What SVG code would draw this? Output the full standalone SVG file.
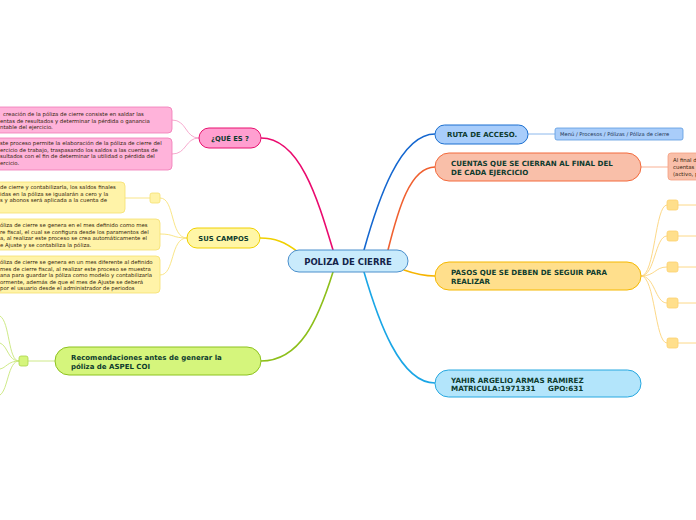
<svg xmlns="http://www.w3.org/2000/svg" width="696" height="520" viewBox="0 0 696 520">
<style>
.t{font-family:"DejaVu Sans",Verdana,sans-serif;font-weight:bold;fill:#0d3b2e}
.n{font-family:"DejaVu Sans",Verdana,sans-serif;font-size:5.4px;fill:#33240c}
.c{fill:none;stroke-width:1.6;stroke-linecap:round}
.s{fill:none;stroke-width:0.9}
</style>
<rect width="696" height="520" fill="#ffffff"/>
<g id="connectors">
<path class="c" stroke="#ea0a6e" d="M333,250 C318,200 300,138 261,138"/>
<path class="c" stroke="#f0d000" d="M298,252 C285,242 275,238 260,238"/>
<path class="c" stroke="#8dbf1a" d="M333,272 C318,320 300,361 261,361"/>
<path class="c" stroke="#1467d0" d="M364,250 C378,200 400,134 435,134"/>
<path class="c" stroke="#f06030" d="M388,250 C398,210 410,167 435,167"/>
<path class="c" stroke="#f6b400" d="M404,270 C418,275 425,276 435,276"/>
<path class="c" stroke="#1aa6e6" d="M364,272 C378,320 400,383 435,383"/>
<path class="s" stroke="#f5a0c8" d="M199,138 C185,138 187,120 172,120"/>
<path class="s" stroke="#f5a0c8" d="M199,138 C185,138 187,154 172,154"/>
<path class="s" stroke="#f8e27a" d="M187,238 C170,238 175,198 160,198"/>
<path class="s" stroke="#f8e27a" d="M125,198 L150,198"/>
<path class="s" stroke="#f8e27a" d="M187,238 C172,238 175,234 160,234"/>
<path class="s" stroke="#f8e27a" d="M187,238 C170,238 175,275 160,275"/>
<path class="s" stroke="#c8e67a" d="M28,361 L55,361"/>
<path class="s" stroke="#c8e67a" d="M19,361 C8,361 10,322 0,316"/>
<path class="s" stroke="#c8e67a" d="M19,361 C8,361 8,346 0,343"/>
<path class="s" stroke="#c8e67a" d="M19,361 C8,361 6,368 0,369"/>
<path class="s" stroke="#c8e67a" d="M19,361 C8,361 8,390 0,395"/>
<path class="s" stroke="#7fb0ea" d="M528,134 L555,134"/>
<path class="s" stroke="#f8a888" d="M641,167 L668,167"/>
<path class="s" stroke="#fcd47a" d="M641,276 C655,276 655,205 667,205"/>
<path class="s" stroke="#fcd47a" d="M641,276 C655,276 655,236 667,236"/>
<path class="s" stroke="#fcd47a" d="M641,276 C655,276 655,267 667,267"/>
<path class="s" stroke="#fcd47a" d="M641,276 C655,276 655,303 667,303"/>
<path class="s" stroke="#fcd47a" d="M641,276 C655,276 655,343 667,343"/>
<path class="s" stroke="#fcd47a" d="M678,205 L696,205 M678,236 L696,236 M678,267 L696,267 M678,303 L696,303 M678,343 L696,343"/>
</g>
<g id="central">
<rect x="288" y="250" width="120" height="22" rx="11" fill="#c9ebfc" stroke="#4a8fcc" stroke-width="1"/>
<text class="t" x="348" y="264.5" font-size="8.5" text-anchor="middle" style="fill:#14244a">POLIZA DE CIERRE</text>
</g>
<g id="que-es">
<rect x="199" y="128" width="62" height="20" rx="10" fill="#ff9fd0" stroke="#e8106e" stroke-width="1"/>
<text class="t" x="230" y="141" font-size="6.8" text-anchor="middle">¿QUÉ ES ?</text>
</g>
<g id="que-es-1">
<rect x="-6" y="107" width="178" height="26" rx="4" fill="#ffb3da" stroke="#f07ab6" stroke-width="0.8"/>
<text class="n" x="3" y="116">creación de la póliza de cierre consiste en saldar las</text>
<text class="n" x="0" y="122.5">entas de resultados y determinar la pérdida o ganancia</text>
<text class="n" x="0" y="129">ntable del ejercicio.</text>
</g>
<g id="que-es-2">
<rect x="-6" y="138" width="178" height="32" rx="4" fill="#ffb3da" stroke="#f07ab6" stroke-width="0.8"/>
<text class="n" x="0" y="145">ste proceso permite la elaboración de la póliza de cierre del</text>
<text class="n" x="0" y="151.5">ercicio de trabajo, traspasando los saldos a las cuentas de</text>
<text class="n" x="0" y="158">sultados con  el fin de determinar la utilidad o pérdida del</text>
<text class="n" x="0" y="164.5">ercicio.</text>
</g>
<g id="sus-campos">
<rect x="187" y="228" width="73" height="20" rx="10" fill="#fff6a6" stroke="#f0d000" stroke-width="1"/>
<text class="t" x="223.5" y="241" font-size="6.8" text-anchor="middle">SUS CAMPOS</text>
</g>
<g id="campos-1">
<rect x="-6" y="182" width="131" height="31" rx="4" fill="#fff3a8" stroke="#f5df70" stroke-width="0.8"/>
<text class="n" x="0" y="189">de cierre y contabilizarla, los saldos finales</text>
<text class="n" x="0" y="195.5">idas en la póliza se igualarán a cero y la</text>
<text class="n" x="0" y="202">s y abonos será aplicada a la cuenta de</text>
<rect x="150" y="193" width="10" height="10" rx="2" fill="#fff3a8" stroke="#f5df70" stroke-width="0.8"/>
</g>
<g id="campos-2">
<rect x="-6" y="219" width="166" height="31" rx="4" fill="#fff3a8" stroke="#f5df70" stroke-width="0.8"/>
<text class="n" x="0" y="227">óliza de cierre se genera en el mes definido como mes</text>
<text class="n" x="0" y="233.5">re fiscal, el cual se configura desde los paramentos del</text>
<text class="n" x="0" y="240">a, al realizar este proceso se crea automáticamente el</text>
<text class="n" x="0" y="246.5">e Ajuste y se contabiliza la póliza.</text>
</g>
<g id="campos-3">
<rect x="-6" y="256" width="166" height="37" rx="4" fill="#fff3a8" stroke="#f5df70" stroke-width="0.8"/>
<text class="n" x="0" y="264">óliza de cierre se genera en un mes diferente al definido</text>
<text class="n" x="0" y="270.5">mes de cierre fiscal, al realizar este proceso se muestra</text>
<text class="n" x="0" y="277">ana para guardar la póliza como modelo y contabilizarla</text>
<text class="n" x="0" y="283.5">ormente, además de que el mes de Ajuste se deberá</text>
<text class="n" x="0" y="290">por el usuario  desde el administrador de periodos</text>
</g>
<g id="recomendaciones">
<rect x="55" y="347" width="206" height="28" rx="14" fill="#d5f57c" stroke="#8dc21f" stroke-width="1"/>
<text class="t" x="71" y="359.5" font-size="7">Recomendaciones antes de generar la</text>
<text class="t" x="71" y="368.5" font-size="7">póliza de ASPEL COI</text>
<rect x="19" y="356" width="9" height="10" rx="2" fill="#d5f57c" stroke="#a9d44a" stroke-width="0.8"/>
</g>
<g id="ruta">
<rect x="435" y="125" width="93" height="19" rx="9.5" fill="#a8cdfb" stroke="#1a6fd0" stroke-width="1"/>
<text class="t" x="447" y="137" font-size="7">RUTA DE ACCESO.</text>
</g>
<g id="ruta-nota">
<rect x="555" y="128" width="128" height="12" rx="2" fill="#a9cdfa" stroke="#5b9be0" stroke-width="0.8"/>
<text class="n" x="560" y="136" style="fill:#1a3050;font-size:5.2px">Menú / Procesos / Pólizas / Póliza de cierre</text>
</g>
<g id="cuentas">
<rect x="435" y="153" width="206" height="28" rx="14" fill="#f9bfa9" stroke="#f36a3c" stroke-width="1"/>
<text class="t" x="451" y="165.5" font-size="7.1">CUENTAS QUE SE CIERRAN AL FINAL DEL</text>
<text class="t" x="451" y="174.5" font-size="7.1">DE CADA EJERCICIO</text>
</g>
<g id="cuentas-nota">
<rect x="668" y="153" width="34" height="27" rx="3" fill="#f9bfa9" stroke="#f5a080" stroke-width="0.8"/>
<text class="n" x="673" y="162">Al final d</text>
<text class="n" x="673" y="169">cuentas</text>
<text class="n" x="673" y="176">(activo, p</text>
</g>
<g id="pasos">
<rect x="435" y="262" width="206" height="28" rx="14" fill="#ffdf8c" stroke="#f5b800" stroke-width="1"/>
<text class="t" x="451" y="274.5" font-size="7.1">PASOS QUE SE DEBEN DE SEGUIR PARA</text>
<text class="t" x="451" y="283.5" font-size="7.1">REALIZAR</text>
</g>
<g id="pasos-items" fill="#ffdf8c" stroke="#fcd070" stroke-width="0.8">
<rect x="667" y="200" width="11" height="10" rx="2"/>
<rect x="667" y="231" width="11" height="10" rx="2"/>
<rect x="667" y="262" width="11" height="10" rx="2"/>
<rect x="667" y="298" width="11" height="10" rx="2"/>
<rect x="667" y="338" width="11" height="10" rx="2"/>
</g>
<g id="yahir">
<rect x="435" y="370" width="206" height="27" rx="13.5" fill="#b3e5fb" stroke="#27a8e0" stroke-width="1"/>
<text class="t" x="451" y="382.5" font-size="7.2">YAHIR ARGELIO ARMAS RAMIREZ</text>
<text class="t" x="451" y="391" font-size="7.2" xml:space="preserve">MATRICULA:1971331     GPO:631</text>
</g>
</svg>
